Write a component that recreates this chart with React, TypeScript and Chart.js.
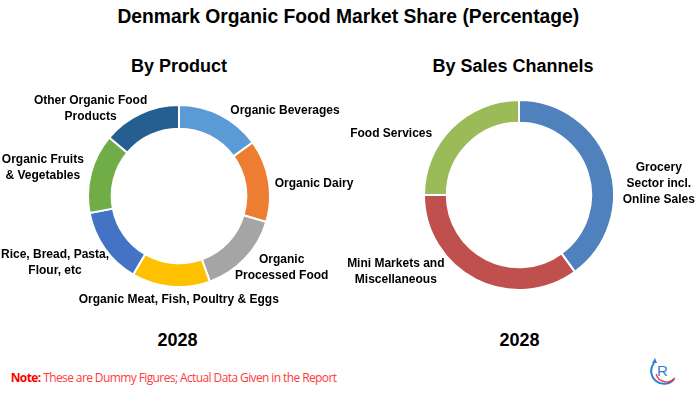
import React, { useEffect, useRef } from "react";
import { Chart, registerables } from "chart.js";

Chart.register(...registerables);

// ---- data ----
const productCategories = [
  "Organic Beverages",
  "Organic Dairy",
  "Organic Processed Food",
  "Organic Meat, Fish, Poultry & Eggs",
  "Rice, Bread, Pasta, Flour, etc",
  "Organic Fruits & Vegetables",
  "Other Organic Food Products",
];
const productShares = [15, 14.6, 14.9, 13.9, 13.6, 14.1, 13.9];
const productColors = ["#5B9BD5", "#ED7D31", "#A5A5A5", "#FFC000", "#4472C4", "#70AD47", "#255E91"];

const channelCategories = ["Grocery Sector incl. Online Sales", "Mini Markets and Miscellaneous", "Food Services"];
const channelShares = [40, 35, 25];
const channelColors = ["#4F81BD", "#C0504D", "#9BBB59"];

const chartTitle = "Denmark Organic Food Market Share (Percentage)";
const subTitles = ["By Product", "By Sales Channels"];
const yearLabel = "2028";

// ---- layout (label line splits and anchor positions) ----
const productLabelLayout = [
  { lines: ["Organic Beverages"], x: 285, y: 114.3 },
  { lines: ["Organic Dairy"], x: 314, y: 187.3 },
  { lines: ["Organic", "Processed Food"], x: 281.7, y: 263.3 },
  { lines: ["Organic Meat, Fish, Poultry & Eggs"], x: 178.8, y: 303.3 },
  { lines: ["Rice, Bread, Pasta,", "Flour, etc"], x: 55, y: 258.3 },
  { lines: ["Organic Fruits", "& Vegetables"], x: 42.8, y: 163.3 },
  { lines: ["Other Organic Food", "Products"], x: 90.6, y: 104 },
];
const channelLabelLayout = [
  { lines: ["Grocery", "Sector incl.", "Online Sales"], x: 658.8, y: 170.7 },
  { lines: ["Mini Markets and", "Miscellaneous"], x: 395.8, y: 266.7 },
  { lines: ["Food Services"], x: 391.2, y: 136.7 },
];

const FONT = "'Liberation Sans', Arial, Helvetica, sans-serif";

function Doughnut(props: {
  values: number[];
  labels: string[];
  colors: string[];
  cutout: string;
  left: number;
  top: number;
  size: number;
}) {
  const ref = useRef<HTMLCanvasElement | null>(null);
  useEffect(() => {
    if (!ref.current) return;
    const chart = new Chart(ref.current, {
      type: "doughnut",
      data: {
        labels: props.labels,
        datasets: [
          {
            data: props.values,
            backgroundColor: props.colors,
            borderColor: "#ffffff",
            borderWidth: 2,
          },
        ],
      },
      options: {
        animation: false,
        responsive: false,
        maintainAspectRatio: false,
        cutout: props.cutout,
        rotation: 0,
        layout: { padding: 0 },
        plugins: { legend: { display: false }, tooltip: { enabled: false }, title: { display: false } },
      },
    });
    return () => chart.destroy();
  }, []);
  return (
    <canvas
      ref={ref}
      width={props.size}
      height={props.size}
      style={{ position: "absolute", left: props.left, top: props.top, width: props.size, height: props.size }}
    />
  );
}

function TextBlock(props: { lines: string[]; x: number; baseline: number; size?: number; lh?: number }) {
  const size = props.size ?? 12;
  const lh = props.lh ?? 16;
  const asc = 0.905 * size;
  const desc = 0.212 * size;
  const off = (lh - (asc + desc)) / 2 + asc;
  return (
    <div
      style={{
        position: "absolute",
        left: props.x - 400,
        width: 800,
        top: props.baseline - off,
        textAlign: "center",
        fontFamily: FONT,
        fontWeight: "bold",
        fontSize: size,
        lineHeight: lh + "px",
        color: "#000",
        whiteSpace: "nowrap",
        pointerEvents: "none",
      }}
    >
      {props.lines.map((l, i) => (
        <div key={i}>{l}</div>
      ))}
    </div>
  );
}

export default function App() {
  useEffect(() => {
    document.body.style.margin = "0";
  }, []);
  return (
    <div style={{ position: "relative", width: 700, height: 393, overflow: "hidden", background: "#fff" }}>
      <TextBlock lines={[chartTitle]} x={348.3} baseline={23.5} size={19.3} lh={24} />
      <TextBlock lines={[subTitles[0]]} x={179} baseline={72.7} size={18} lh={22} />
      <TextBlock lines={[subTitles[1]]} x={513} baseline={72.7} size={18} lh={22} />

      <Doughnut values={productShares} labels={productCategories} colors={productColors} cutout="74%" left={86.5} top={103.5} size={184} />
      <Doughnut values={channelShares} labels={channelCategories} colors={channelColors} cutout="76%" left={422.5} top={98.5} size={192} />

      {productLabelLayout.map((l, i) => (
        <TextBlock key={"p" + i} lines={l.lines} x={l.x} baseline={l.y} />
      ))}
      {channelLabelLayout.map((l, i) => (
        <TextBlock key={"c" + i} lines={l.lines} x={l.x} baseline={l.y} />
      ))}

      <TextBlock lines={[yearLabel]} x={177.5} baseline={346.7} size={18} lh={22} />
      <TextBlock lines={[yearLabel]} x={519.5} baseline={346.7} size={18} lh={22} />

      <div
        style={{
          position: "absolute",
          left: 10.7,
          top: 382.7 - 13,
          fontFamily: "'Open Sans', sans-serif",
          fontSize: 12,
          lineHeight: "16px",
          color: "#ff3b3b",
          whiteSpace: "nowrap",
          letterSpacing: "-0.6px",
        }}
      >
        <span style={{ fontWeight: "bold", color: "#ff0000" }}>Note:</span> These are Dummy Figures; Actual Data Given in the Report
      </div>

      <svg width={30} height={30} viewBox="0 0 30 30" style={{ position: "absolute", left: 648, top: 355 }}>
        <path d="M6 8 A11 11 0 0 0 26 24" fill="none" stroke="#2f7fd1" strokeWidth={2} />
        <path d="M8 19 A11 11 0 0 0 27 23" fill="none" stroke="#e33" strokeWidth={1.2} />
        <path d="M4 8 L7 3 L9 8 Z" fill="#2f7fd1" />
        <text x={9} y={21} fontFamily={FONT} fontSize={15} fill="#2f7fd1">R</text>
      </svg>
    </div>
  );
}
